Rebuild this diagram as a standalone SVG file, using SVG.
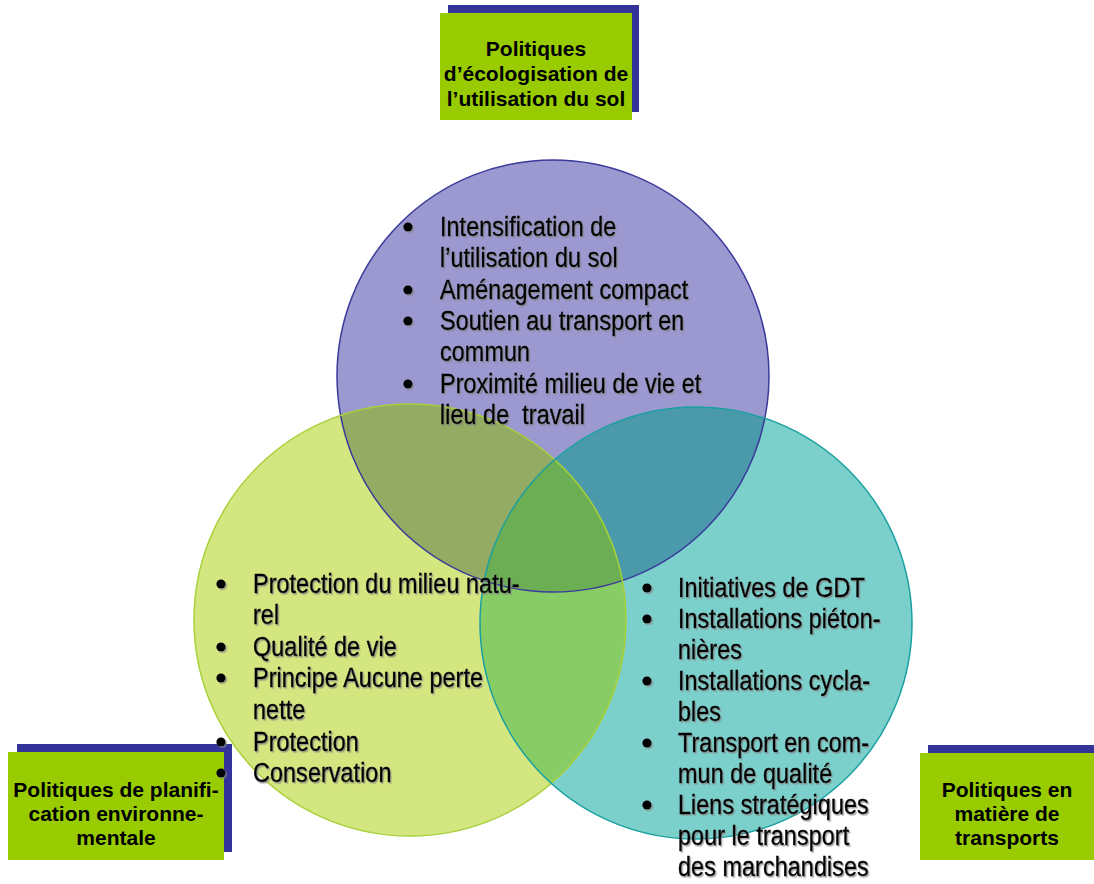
<svg xmlns="http://www.w3.org/2000/svg" width="1094" height="884" viewBox="0 0 1094 884">
<style>
.lbl{font-family:"Liberation Sans",Arial,sans-serif;font-weight:bold;font-size:21px;fill:#000;text-anchor:middle}
.it{font-family:"Liberation Sans",Arial,sans-serif;font-size:28px;fill:#000;stroke:#000;stroke-width:0.45;filter:url(#sh)}
.bu{fill:#000;filter:url(#sh)}
.shadowbox{fill:#333399}
.greenbox{fill:#99cc00}
</style>
<defs>
<filter id="sh" x="-10%" y="-30%" width="130%" height="170%">
<feDropShadow dx="1.5" dy="1.5" stdDeviation="0.5" flood-color="#808080" flood-opacity="0.7"/>
</filter>
<clipPath id="cT"><circle cx="553" cy="376" r="216"/></clipPath>
<clipPath id="cL"><circle cx="410" cy="620" r="216"/></clipPath>
<clipPath id="cTL" clip-path="url(#cT)"><circle cx="410" cy="620" r="216"/></clipPath>
</defs>
<rect width="1094" height="884" fill="#fff"/>

<g id="circle-top">
<circle cx="553" cy="376" r="216" fill="#9c98d0"/>
</g>
<g id="circle-left">
<circle cx="410" cy="620" r="216" fill="#d4e680"/>
</g>
<g id="circle-right">
<circle cx="696" cy="623" r="216" fill="#7cd0cc"/>
</g>
<g id="overlaps">
<circle cx="410" cy="620" r="216" fill="#93ab62" clip-path="url(#cT)"/>
<circle cx="696" cy="623" r="216" fill="#4a9aac" clip-path="url(#cT)"/>
<circle cx="696" cy="623" r="216" fill="#88cc66" clip-path="url(#cL)"/>
<circle cx="696" cy="623" r="216" fill="#6cae54" clip-path="url(#cTL)"/>
</g>
<g id="outlines" fill="none" stroke-width="1.5">
<circle cx="553" cy="376" r="216" stroke="#3a3a9a"/>
<circle cx="410" cy="620" r="216" stroke="#a8d03a"/>
<circle cx="696" cy="623" r="216" stroke="#1aa0a0"/>
</g>

<g id="list-top">
<circle class="bu" cx="408" cy="227" r="4.6"/>
<circle class="bu" cx="408" cy="290" r="4.6"/>
<circle class="bu" cx="408" cy="321" r="4.6"/>
<circle class="bu" cx="408" cy="384" r="4.6"/>
<g transform="matrix(0.84 0 0 1 440 0)">
<text class="it" x="0" y="236">Intensification de</text>
<text class="it" x="0" y="267">l’utilisation du sol</text>
<text class="it" x="0" y="299">Aménagement compact</text>
<text class="it" x="0" y="330">Soutien au transport en</text>
<text class="it" x="0" y="361">commun</text>
<text class="it" x="0" y="393">Proximité milieu de vie et</text>
<text class="it" x="0" y="424" xml:space="preserve">lieu de  travail</text>
</g>
</g>

<g id="list-left">
<circle class="bu" cx="221" cy="584" r="4.6"/>
<circle class="bu" cx="221" cy="647" r="4.6"/>
<circle class="bu" cx="221" cy="678" r="4.6"/>
<g transform="matrix(0.84 0 0 1 253 0)">
<text class="it" x="0" y="593">Protection du milieu natu-</text>
<text class="it" x="0" y="624">rel</text>
<text class="it" x="0" y="656">Qualité de vie</text>
<text class="it" x="0" y="687">Principe Aucune perte</text>
<text class="it" x="0" y="719">nette</text>
</g>
</g>

<g id="list-right">
<circle class="bu" cx="647" cy="588" r="4.6"/>
<circle class="bu" cx="647" cy="619" r="4.6"/>
<circle class="bu" cx="647" cy="681" r="4.6"/>
<circle class="bu" cx="647" cy="743" r="4.6"/>
<circle class="bu" cx="647" cy="805" r="4.6"/>
<g transform="matrix(0.84 0 0 1 678 0)">
<text class="it" x="0" y="597">Initiatives de GDT</text>
<text class="it" x="0" y="628">Installations piéton-</text>
<text class="it" x="0" y="659">nières</text>
<text class="it" x="0" y="690">Installations cycla-</text>
<text class="it" x="0" y="721">bles</text>
<text class="it" x="0" y="752">Transport en com-</text>
<text class="it" x="0" y="783">mun de qualité</text>
<text class="it" x="0" y="814">Liens stratégiques</text>
<text class="it" x="0" y="845">pour le transport</text>
<text class="it" x="0" y="876">des marchandises</text>
</g>
</g>

<g id="label-top">
<rect class="shadowbox" x="448" y="5" width="191" height="107"/>
<rect class="greenbox" x="440" y="13" width="192" height="107"/>
<text class="lbl" x="536" y="56">Politiques</text>
<text class="lbl" x="536" y="81">d’écologisation de</text>
<text class="lbl" x="536" y="106">l’utilisation du sol</text>
</g>

<g id="label-left">
<rect class="shadowbox" x="17" y="744" width="215" height="108"/>
<rect class="greenbox" x="8" y="752" width="216" height="108"/>
<text class="lbl" x="116" y="797">Politiques de planifi-</text>
<text class="lbl" x="116" y="821">cation environne-</text>
<text class="lbl" x="116" y="845">mentale</text>
</g>

<g id="list-left-tail">
<circle class="bu" cx="221" cy="742" r="4.6"/>
<circle class="bu" cx="221" cy="773" r="4.6"/>
<g transform="matrix(0.84 0 0 1 253 0)">
<text class="it" x="0" y="751">Protection</text>
<text class="it" x="0" y="782">Conservation</text>
</g>
</g>

<g id="label-right">
<rect class="shadowbox" x="928" y="745" width="166" height="107"/>
<rect class="greenbox" x="920" y="753" width="174" height="107"/>
<text class="lbl" x="1007" y="797">Politiques en</text>
<text class="lbl" x="1007" y="821">matière de</text>
<text class="lbl" x="1007" y="845">transports</text>
</g>
</svg>
